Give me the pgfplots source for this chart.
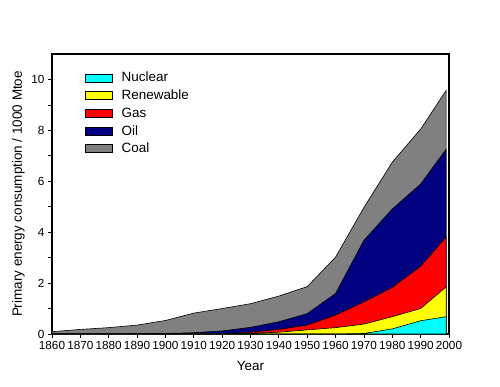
\documentclass[border=0pt]{standalone}
\usepackage{pgfplots}
\pgfplotsset{compat=1.18}
\usepackage{pgfplotstable}
\usepackage{fontspec}
\setmainfont{Liberation Sans}

\definecolor{cNuc}{RGB}{0,255,255}
\definecolor{cRen}{RGB}{255,255,0}
\definecolor{cGas}{RGB}{255,0,0}
\definecolor{cOil}{RGB}{0,0,128}
\definecolor{cCoal}{RGB}{128,128,128}

% cumulative (stacked) tops: N = nuclear, R = +renewable, G = +gas, O = +oil, C = +coal
\pgfplotstableread{
year N    R    G    O    C
1860 0    0    0    0    0.09
1870 0    0    0    0    0.18
1880 0    0    0    0    0.25
1890 0    0    0    0.01 0.35
1900 0    0    0    0.02 0.53
1910 0    0    0.01 0.05 0.82
1920 0    0.01 0.02 0.12 1.00
1930 0    0.03 0.07 0.26 1.19
1940 0    0.07 0.18 0.48 1.49
1950 0    0.16 0.35 0.80 1.86
1960 0    0.25 0.74 1.59 3.02
1970 0.02 0.39 1.26 3.68 4.97
1980 0.20 0.68 1.83 4.91 6.75
1990 0.52 1.00 2.66 5.89 8.05
1999 0.68 1.85 3.81 7.26 9.57
}\energy

\begin{document}
\begin{tikzpicture}
\useasboundingbox (-52bp,-53bp) rectangle (448bp,334bp);
\begin{axis}[
  at={(0,0)}, anchor=south west,
  scale only axis, width=397bp, height=280bp,
  xmin=1860, xmax=2000, ymin=0, ymax=11,
  xtick={1860,1870,...,2000},
  ytick={0,2,...,10},
  minor ytick={1,3,...,9},
  tick align=outside, tick pos=left,
  major tick length=4bp, minor tick length=4bp,
  axis line style={line width=1.3bp},
  every tick/.style={black, line width=0.8bp},
  /pgf/number format/assume math mode=true,
  x tick label style={/pgf/number format/1000 sep={}},
  tick label style={font=\fontsize{11.8}{14}\selectfont},
  label style={font=\fontsize{13.5}{15}\selectfont},
  xlabel={Year},
  xlabel style={yshift=-5bp},
  ylabel={Primary energy consumption / 1000 Mtoe},
  reverse legend,
  legend cell align=left,
  legend style={draw=none, fill=none, at={(0.076,0.95)}, anchor=north west,
    font=\fontsize{13.5}{15}\selectfont, row sep=2.6bp},
  legend image code/.code={\draw[#1, draw=black, line width=0.6bp] (0bp,-4bp) rectangle (27bp,4bp);
    \path[draw=none, fill=none] (0bp,0bp) rectangle (34bp,0.1bp);},
]
\addplot[fill=cCoal, draw=black, line width=0.6bp] table[x=year, y=C] {\energy} \closedcycle;
\addlegendentry{Coal}
\addplot[fill=cOil, draw=black, line width=0.6bp] table[x=year, y=O] {\energy} \closedcycle;
\addlegendentry{Oil}
\addplot[fill=cGas, draw=black, line width=0.6bp] table[x=year, y=G] {\energy} \closedcycle;
\addlegendentry{Gas}
\addplot[fill=cRen, draw=black, line width=0.6bp] table[x=year, y=R] {\energy} \closedcycle;
\addlegendentry{Renewable}
\addplot[fill=cNuc, draw=black, line width=0.6bp] table[x=year, y=N] {\energy} \closedcycle;
\addlegendentry{Nuclear}
\end{axis}
\end{tikzpicture}
\end{document}
